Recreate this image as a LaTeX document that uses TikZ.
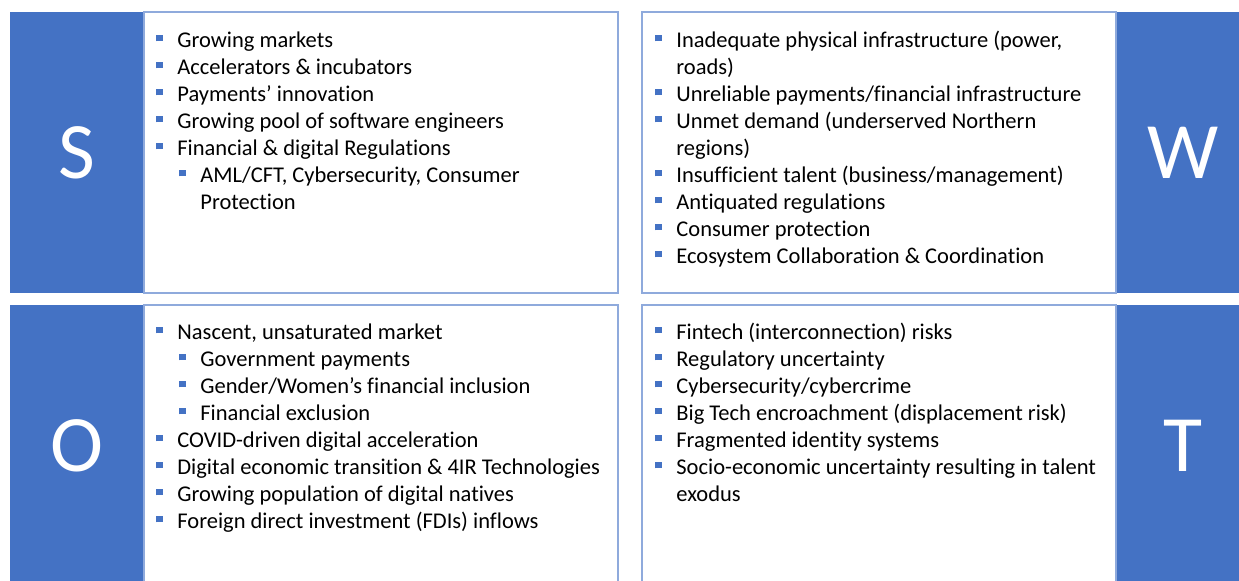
\documentclass[tikz,border=0pt]{standalone}
\usepackage{fontspec}
\setmainfont{Carlito}[Ligatures=NoCommon]
\usepackage{tikz}
\usepackage{xcolor}
\usetikzlibrary{positioning}
\definecolor{cSwotBlue}{HTML}{4472C4}
\definecolor{cSwotEdge}{HTML}{8FAADC}
\newcommand{\sqbul}{\llap{\textcolor{cSwotBlue}{\rule[3pt]{3.4pt}{3.4pt}}\hspace{7.3pt}}}
\tikzset{
  letterbox/.style={fill=cSwotBlue, text=white, inner sep=0pt,
    minimum width=67pt, minimum height=140.5pt, font=\fontsize{40}{40}\selectfont},
  listbox/.style={draw=cSwotEdge, line width=0.75pt, fill=white, inner sep=0pt,
    minimum width=237pt, minimum height=140.5pt},
  itemline/.style={anchor=base west, inner sep=0pt, font=\fontsize{11.25}{13.5}\selectfont},
}
\begin{document}
\begin{tikzpicture}[x=0.5pt, y=-0.5pt]
  \useasboundingbox (0,0) rectangle (1239,581);
  \node[letterbox] (S) at (77,152.5) {S};
  \node[letterbox] (W) at (1183,152.5) {W};
  \node[letterbox] (O) at (77,445.5) {O};
  \node[letterbox] (T) at (1183,445.5) {T};
  \node[listbox] (sbox) at (381,152.5) {};
  \node[listbox] (wbox) at (879,152.5) {};
  \node[listbox] (obox) at (381,445.5) {};
  \node[listbox] (tbox) at (879,445.5) {};
  \foreach \dx/\txt [count=\i] in {
      0/{\sqbul Growing markets},
      0/{\sqbul Accelerators \& incubators},
      0/{\sqbul Payments’ innovation},
      0/{\sqbul Growing pool of software engineers},
      0/{\sqbul Financial \& digital Regulations},
      23/{\sqbul AML/CFT, Cybersecurity, Consumer},
      23/{Protection}}{
    \pgfmathsetmacro{\yy}{47.5 + 27*(\i-1)}
    \node[itemline] (s\i) at ({177+\dx}, \yy) {\txt};
  }
  \foreach \txt [count=\i] in {
      {\sqbul Inadequate physical infrastructure (power,},
      {roads)},
      {\sqbul Unreliable payments/financial infrastructure},
      {\sqbul Unmet demand (underserved Northern},
      {regions)},
      {\sqbul Insufficient talent (business/management)},
      {\sqbul Antiquated regulations},
      {\sqbul Consumer protection},
      {\sqbul Ecosystem Collaboration \& Coordination}}{
    \pgfmathsetmacro{\yy}{47.5 + 27*(\i-1)}
    \node[itemline] (w\i) at (676, \yy) {\txt};
  }
  \foreach \dx/\txt [count=\i] in {
      0/{\sqbul Nascent, unsaturated market},
      23/{\sqbul Government payments},
      23/{\sqbul Gender/Women’s financial inclusion},
      23/{\sqbul Financial exclusion},
      0/{\sqbul COVID-driven digital acceleration},
      0/{\sqbul Digital economic transition \& 4IR Technologies},
      0/{\sqbul Growing population of digital natives},
      0/{\sqbul Foreign direct investment (FDIs) inflows}}{
    \pgfmathsetmacro{\yy}{339.5 + 27*(\i-1)}
    \node[itemline] (o\i) at ({177+\dx}, \yy) {\txt};
  }
  \foreach \txt [count=\i] in {
      {\sqbul Fintech (interconnection) risks},
      {\sqbul Regulatory uncertainty},
      {\sqbul Cybersecurity/cybercrime},
      {\sqbul Big Tech encroachment (displacement risk)},
      {\sqbul Fragmented identity systems},
      {\sqbul Socio-economic uncertainty resulting in talent},
      {exodus}}{
    \pgfmathsetmacro{\yy}{339.5 + 27*(\i-1)}
    \node[itemline] (t\i) at (676, \yy) {\txt};
  }
\end{tikzpicture}
\end{document}
